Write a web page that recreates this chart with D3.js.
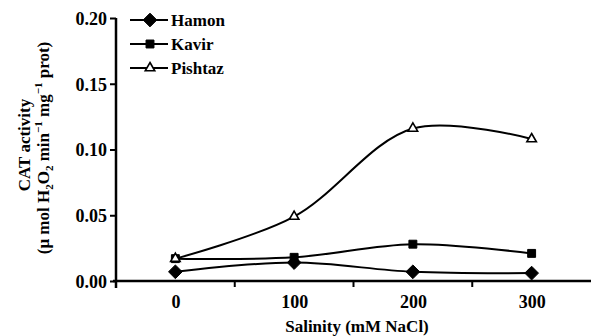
<!DOCTYPE html>
<html>
<head>
<meta charset="utf-8">
<script src="https://cdn.jsdelivr.net/npm/d3@7"></script>
<style>
body{margin:0;background:#fff;}
text{font-family:"Liberation Serif","Times New Roman",serif;font-weight:bold;fill:#000;}
</style>
</head>
<body>
<div id="chart"></div>
<script>
var w=591;
var h=336;
var salinity=[0,100,200,300];
var hamon=[0.007,0.014,0.007,0.006];
var kavir=[0.017,0.018,0.028,0.021];
var pishtaz=[0.017,0.049,0.116,0.108];
var yTicks=[0,0.05,0.10,0.15,0.20];
var xMinor=[50,150,250];
var names=["Hamon","Kavir","Pishtaz"];

var padL=116,padT=18,padB=281,padR=591;
var svg=d3.select("#chart")
  .append("svg")
  .attr("width",w)
  .attr("height",h);
var x=d3.scaleLinear().domain([-50,350]).range([padL,padR]);
var y=d3.scaleLinear().domain([0,0.20]).range([padB,padT]);

// axes
var yAxis=svg.append("g")
  .attr("transform","translate("+padL+",0)")
  .call(d3.axisLeft(y).tickValues(yTicks).tickSize(6).tickFormat(d3.format(".2f")));
yAxis.select(".domain").remove();
yAxis.selectAll("line").attr("stroke","#000").attr("stroke-width",2);
yAxis.selectAll("text").style("font-size","18px").attr("x",-9).attr("dy","0.36em");

var xAxis=svg.append("g")
  .attr("transform","translate(0,"+padB+")")
  .call(d3.axisBottom(x).tickValues(salinity).tickSize(0).tickPadding(14).tickFormat(d3.format("d")));
xAxis.select(".domain").remove();
xAxis.selectAll("text").style("font-size","18px");
svg.selectAll(".minor")
  .data(xMinor)
  .enter()
  .append("line")
  .attr("x1",function(d){return x(d);})
  .attr("x2",function(d){return x(d);})
  .attr("y1",padB)
  .attr("y2",padB+6)
  .attr("stroke","#000")
  .attr("stroke-width",2);

svg.append("line")
  .attr("x1",padL).attr("x2",padL)
  .attr("y1",padT).attr("y2",padB+7)
  .attr("stroke","#000").attr("stroke-width",2.5);
svg.append("line")
  .attr("x1",padL-3).attr("x2",padR)
  .attr("y1",padB).attr("y2",padB)
  .attr("stroke","#000").attr("stroke-width",2.5);

// titles
svg.append("text")
  .attr("x",357).attr("y",332)
  .attr("text-anchor","middle")
  .style("font-size","17px")
  .text("Salinity (mM NaCl)");
svg.append("text")
  .attr("transform","translate(30,145) rotate(-90)")
  .attr("text-anchor","middle")
  .style("font-size","17px")
  .text("CAT activity");
var t2=svg.append("text")
  .attr("transform","translate(49,148) rotate(-90)")
  .attr("text-anchor","middle")
  .style("font-size","17px");
t2.append("tspan").text("(\u03bc mol H");
t2.append("tspan").text("2").attr("dy",4).style("font-size","11px");
t2.append("tspan").text("O").attr("dy",-4);
t2.append("tspan").text("2").attr("dy",4).style("font-size","11px");
t2.append("tspan").text(" min").attr("dy",-4);
t2.append("tspan").text("\u22121").attr("dy",-7).style("font-size","11px");
t2.append("tspan").text(" mg").attr("dy",7);
t2.append("tspan").text("\u22121").attr("dy",-7).style("font-size","11px");
t2.append("tspan").text(" prot)").attr("dy",7);

// series
var series=[hamon,kavir,pishtaz];
var line=d3.line()
  .x(function(d,i){return x(salinity[i]);})
  .y(function(d){return y(d);})
  .curve(d3.curveCatmullRom.alpha(0.5));
svg.selectAll(".series")
  .data(series)
  .enter()
  .append("path")
  .attr("d",line)
  .attr("fill","none")
  .attr("stroke","#000")
  .attr("stroke-width",2);

var diamond=d3.symbol().type(d3.symbolDiamond2).size(120);
var square=d3.symbol().type(d3.symbolSquare2).size(80);
var triangle=d3.symbol().type(d3.symbolTriangle2).size(65);
var shapes=[diamond,square,triangle];
var fills=["#000","#000","#fff"];

series.forEach(function(s,k){
  svg.selectAll(".m"+k)
    .data(s)
    .enter()
    .append("path")
    .attr("d",shapes[k]())
    .attr("transform",function(d,i){return "translate("+x(salinity[i])+","+y(d)+")";})
    .attr("fill",fills[k])
    .attr("stroke","#000")
    .attr("stroke-width",k==2?1.6:1);
});

// legend
var legY=[20,44,68];
names.forEach(function(n,k){
  var g=svg.append("g").attr("transform","translate(0,"+legY[k]+")");
  g.append("line").attr("x1",130).attr("x2",168).attr("y1",0).attr("y2",0)
    .attr("stroke","#000").attr("stroke-width",2);
  g.append("path").attr("d",shapes[k]()).attr("transform","translate(150,0)")
    .attr("fill",fills[k]).attr("stroke","#000").attr("stroke-width",k==2?1.6:1);
  g.append("text").attr("x",171).attr("y",6).style("font-size","17px").text(n);
});
</script>
</body>
</html>
